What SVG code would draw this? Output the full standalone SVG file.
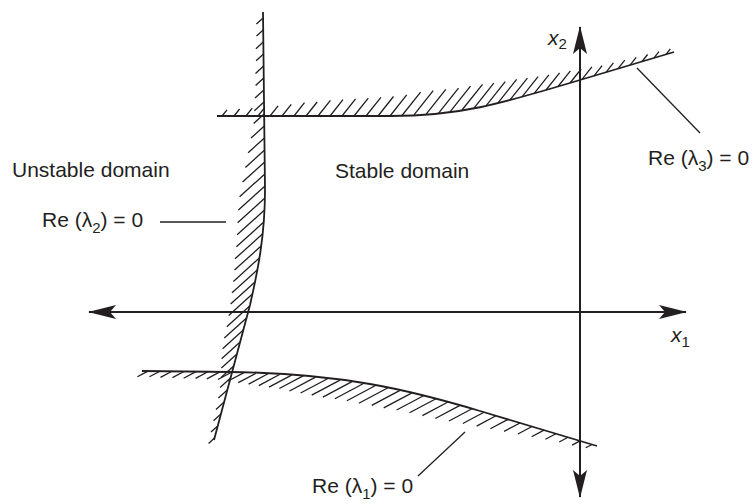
<svg xmlns="http://www.w3.org/2000/svg" width="753" height="504" viewBox="0 0 753 504">
<style>
.axis{stroke:#231f20;stroke-width:2;fill:none}
.curve{stroke:#231f20;stroke-width:1.8;fill:none}
.hatch{stroke:#231f20;stroke-width:1.3;fill:none}
.lead{stroke:#231f20;stroke-width:1.3;fill:none}
text{font-family:"Liberation Sans",Arial,sans-serif;font-size:21px;fill:#231f20}
.it{font-style:italic}
.sub{font-size:15px}
</style>
<defs>
<marker id="arr" viewBox="0 0 28 14" refX="27" refY="7" markerWidth="28" markerHeight="14" markerUnits="userSpaceOnUse" orient="auto-start-reverse">
<path d="M0,0 L28,7 L0,14 L6,7 Z" fill="#231f20"/>
</marker>
</defs>
<rect width="753" height="504" fill="#fff"/>

<g id="connectors">
<line class="axis" x1="89" y1="312" x2="686" y2="312" marker-start="url(#arr)" marker-end="url(#arr)"/>
<line class="axis" x1="580" y1="27" x2="580" y2="497" marker-start="url(#arr)" marker-end="url(#arr)"/>
<line class="lead" x1="160" y1="222" x2="226" y2="222"/>
<line class="lead" x1="637" y1="68" x2="700" y2="133"/>
<line class="lead" x1="465" y1="432" x2="418" y2="476"/>
</g>

<g id="curve-lambda2">
<path class="curve" d="M263,12 L265,190 C265,235 258,270 250,305 L214,440"/>
<path class="hatch" d="M263.1,18 l-6.7,6 M263.2,30 l-6.7,6 M263.3,42 l-7.4,6.7 M263.5,54 l-7.4,6.7 M263.6,66 l-8.1,7.4 M263.7,78 l-8.1,7.4 M263.9,90 l-8.9,8 M264,102 l-9.6,8.7 M264.1,114 l-10.4,9.4 M264.3,126 l-13.3,12.1 M264.4,138 l-16.3,14.7 M264.6,150 l-19.2,17.4 M264.7,162 l-22.2,20.1 M264.8,174 l-25.2,22.8 M265,186 l-26.6,24.1 M265,198 l-27.4,24.8 M264.5,210 l-27.4,24.8 M263.8,222 l-27.4,24.8 M262.4,234 l-27.4,24.8 M261.1,246 l-26.6,24.1 M259.3,258 l-25.9,23.5 M257.2,270 l-25.2,22.8 M255,282 l-24.4,22.1 M252.4,294 l-23.7,21.4 M249.7,306 l-22.9,20.8 M246.5,318 l-22.2,20.1 M243.3,330 l-20.7,18.8 M240.1,342 l-18.5,16.8 M236.9,354 l-15.5,14.1 M233.7,366 l-12.6,11.4 M230.5,378 l-10.4,9.4 M227.3,390 l-8.9,8 M224.1,402 l-8.1,7.4 M220.9,414 l-7.4,6.7 M217.7,426 l-6.7,6 M214.5,438 l-5.9,5.4"/>
</g>

<g id="curve-lambda3">
<path class="curve" d="M217,116 L390,116 C460,116 500,104 580,80 L674,52"/>
<path class="hatch" d="M222,116 l5,-6.2 M234,116 l5.6,-7 M246,116 l6.2,-7.8 M258,116 l6.8,-8.6 M270,116 l8.1,-10.1 M282,116 l9.3,-11.7 M294,116 l10.5,-13.3 M306,116 l11.2,-14 M318,116 l12.4,-15.6 M330,116 l13,-16.4 M342,116 l13.6,-17.2 M354,116 l14.3,-17.9 M366,116 l14.9,-18.7 M378,116 l15.5,-19.5 M390,116 l16.7,-21.1 M402,115.5 l18.6,-23.4 M414,114.9 l19.2,-24.2 M426,114.3 l19.8,-25 M438,113.8 l20.5,-25.7 M450,111.9 l20.5,-25.7 M462,110 l20.5,-25.7 M474,108.1 l19.8,-25 M486,105.8 l19.2,-24.2 M498,102.8 l18.6,-23.4 M510,99.9 l17.4,-21.8 M522,96.9 l16.1,-20.3 M534,93.6 l14.9,-18.7 M546,90 l13.6,-17.2 M558,86.5 l12.4,-15.6 M570,83 l11.2,-14 M582,79.4 l9.9,-12.5 M594,75.8 l8.1,-10.1 M606,72.3 l7.4,-9.4 M618,68.7 l6.8,-8.6 M630,65.1 l6.2,-7.8 M642,61.5 l5.6,-7 M654,57.9 l5,-6.2 M666,54.4 l4.3,-5.5"/>
</g>

<g id="curve-lambda1">
<path class="curve" d="M142,371 L230,372 C340,373 410,390 480,411 L597,446"/>
<path class="hatch" d="M148,371.1 l-10.6,5.6 M160,371.2 l-10.6,5.6 M172,371.3 l-11.5,6.1 M184,371.5 l-11.5,6.1 M196,371.6 l-12.4,6.6 M208,371.8 l-12.4,6.6 M220,371.9 l-13.2,7 M232,372 l-14.1,7.5 M244,372.6 l-15.9,8.4 M256,373.2 l-17.7,9.4 M268,373.8 l-19.4,10.3 M280,374.3 l-21.2,11.3 M292,374.9 l-23,12.2 M304,375.4 l-24.7,13.1 M316,376.9 l-26.5,14.1 M328,378.5 l-27.4,14.5 M340,380.1 l-28.3,15 M352,381.6 l-29.1,15.5 M364,383.2 l-29.1,15.5 M376,385.3 l-29.1,15.5 M388,387.8 l-29.1,15.5 M400,390.4 l-28.3,15 M412,392.9 l-28.3,15 M424,395.5 l-27.4,14.5 M436,398.7 l-26.5,14.1 M448,402 l-25.6,13.6 M460,405.4 l-24.7,13.1 M472,408.8 l-23,12.2 M484,412.2 l-21.2,11.3 M496,415.8 l-19.4,10.3 M508,419.4 l-17.7,9.4 M520,423 l-15.9,8.4 M532,426.5 l-14.1,7.5 M544,430.1 l-12.4,6.6 M556,433.7 l-10.6,5.6 M568,437.3 l-8.8,4.7 M580,440.9 l-7.9,4.2 M592,444.5 l-6.2,3.3"/>
</g>

<g id="labels">
<text x="12" y="177">Unstable domain</text>
<text x="335" y="178">Stable domain</text>
<text x="42" y="227">Re (λ<tspan class="sub" dy="6">2</tspan><tspan dy="-6">) = 0</tspan></text>
<text x="648" y="165">Re (λ<tspan class="sub" dy="6">3</tspan><tspan dy="-6">) = 0</tspan></text>
<text x="312" y="493">Re (λ<tspan class="sub" dy="6">1</tspan><tspan dy="-6">) = 0</tspan></text>
<text x="548" y="45"><tspan class="it">x</tspan><tspan class="sub" dy="4">2</tspan></text>
<text x="671" y="342"><tspan class="it">x</tspan><tspan class="sub" dy="5">1</tspan></text>
</g>
</svg>
